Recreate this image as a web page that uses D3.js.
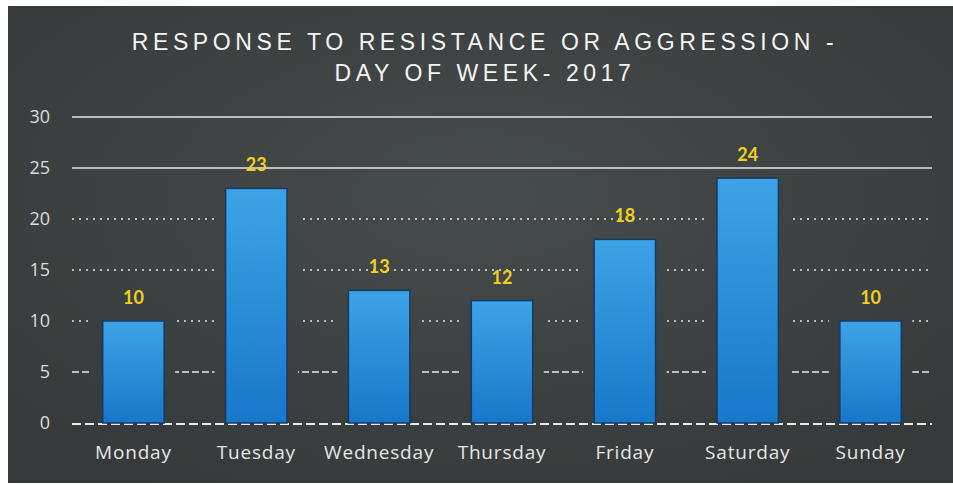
<!DOCTYPE html>
<html>
<head>
<meta charset="utf-8">
<script src="https://cdn.jsdelivr.net/npm/d3@7"></script>
<style>
  html, body { margin: 0; padding: 0; background: #fff; }
  svg { display: block; }
</style>
</head>
<body>
<div id="chart"></div>
<script>
// chart values
let days = ["Monday", "Tuesday", "Wednesday", "Thursday", "Friday", "Saturday", "Sunday"];
let counts = [10, 23, 13, 12, 18, 24, 10];
let yTicks = [0, 5, 10, 15, 20, 25, 30];
let titleLines = ["RESPONSE TO RESISTANCE OR AGGRESSION -", "DAY OF WEEK- 2017"];

const width = 953, height = 485;
const margin = {top: 117, right: 21, bottom: 62, left: 72};

const svg = d3.select("#chart").append("svg")
    .attr("width", width)
    .attr("height", height);

const defs = svg.append("defs");

// slate background, a bit lighter in the middle
const bg = defs.append("radialGradient")
    .attr("id", "bg")
    .attr("cx", "50%").attr("cy", "40%").attr("r", "70%");
bg.append("stop").attr("offset", "0%").attr("stop-color", "#464b4c");
bg.append("stop").attr("offset", "100%").attr("stop-color", "#35393a");

const barGrad = defs.append("linearGradient")
    .attr("id", "barGrad")
    .attr("x1", 0).attr("y1", 0).attr("x2", 0).attr("y2", 1);
barGrad.append("stop").attr("offset", "0%").attr("stop-color", "#3da3e6");
barGrad.append("stop").attr("offset", "100%").attr("stop-color", "#1877c9");

svg.append("rect")
    .attr("x", 8).attr("y", 6)
    .attr("width", width - 8).attr("height", height - 8)
    .attr("fill", "url(#bg)");

const x = d3.scaleBand()
    .domain(days)
    .range([margin.left, width - margin.right])
    .paddingInner(0.5)
    .paddingOuter(0.25);

const y = d3.scaleLinear()
    .domain([0, 30])
    .range([height - margin.bottom, margin.top]);

// mask so gridlines stop around each bar
const mask = defs.append("mask").attr("id", "gridMask");
mask.append("rect").attr("x", 0).attr("y", 0).attr("width", width).attr("height", height).attr("fill", "#fff");
mask.selectAll("rect.hole")
    .data(counts)
    .join("rect")
    .attr("class", "hole")
    .attr("x", (d, i) => x(days[i]) - 11)
    .attr("y", d => y(d) - 5)
    .attr("width", x.bandwidth() + 22)
    .attr("height", d => y(0) - y(d) + 3)
    .attr("fill", "#000");

const dashFor = t => t >= 25 ? null : (t >= 10 ? "2,5" : "7,3");

svg.append("g")
    .attr("mask", "url(#gridMask)")
    .selectAll("line")
    .data(yTicks.filter(t => t > 0))
    .join("line")
    .attr("x1", margin.left)
    .attr("x2", width - margin.right)
    .attr("y1", d => y(d))
    .attr("y2", d => y(d))
    .attr("stroke", "#e6e6e6")
    .attr("stroke-width", d => d >= 25 ? 1.5 : 1.6)
    .attr("stroke-dasharray", dashFor);

// baseline
svg.append("line")
    .attr("x1", margin.left).attr("x2", width - margin.right)
    .attr("y1", y(0) + 1).attr("y2", y(0) + 1)
    .attr("stroke", "#e8e8e8")
    .attr("stroke-width", 2)
    .attr("stroke-dasharray", "9,4");

// bars
svg.append("g")
    .selectAll("rect")
    .data(counts)
    .join("rect")
    .attr("x", (d, i) => x(days[i]))
    .attr("y", d => y(d))
    .attr("width", x.bandwidth())
    .attr("height", d => y(0) - y(d))
    .attr("fill", "url(#barGrad)")
    .attr("stroke", "#143a66")
    .attr("stroke-width", 1.5);

// value labels
svg.append("g")
    .selectAll("text")
    .data(counts)
    .join("text")
    .attr("x", (d, i) => x(days[i]) + x.bandwidth() / 2)
    .attr("y", d => y(d) - 17)
    .attr("text-anchor", "middle")
    .attr("font-family", "Lato, 'Open Sans', sans-serif")
    .attr("font-weight", "bold")
    .attr("font-size", 18)
    .attr("fill", "#f2cf1e")
    .text(d => d);

// y axis
const yAxis = svg.append("g")
    .attr("transform", `translate(${margin.left - 22},0)`)
    .call(d3.axisLeft(y).tickValues(yTicks).tickSize(0).tickPadding(0));
yAxis.select(".domain").remove();
yAxis.selectAll("text")
    .attr("font-family", "'Open Sans', sans-serif")
    .attr("font-size", 18)
    .attr("fill", "#dcdcdc");

// x axis
const xAxis = svg.append("g")
    .attr("transform", `translate(0,${y(0)})`)
    .call(d3.axisBottom(x).tickSize(0).tickPadding(23));
xAxis.select(".domain").remove();
xAxis.selectAll("text")
    .attr("font-family", "'Open Sans', sans-serif")
    .attr("font-size", 19)
    .attr("letter-spacing", 0.8)
    .attr("fill", "#e6e6e6");

// title
svg.append("text")
    .attr("x", 485)
    .attr("y", 50)
    .attr("text-anchor", "middle")
    .attr("font-family", "'Liberation Sans', Arial, sans-serif")
    .attr("font-size", 23)
    .attr("letter-spacing", 4.6)
    .attr("fill", "#f4f4f4")
    .selectAll("tspan")
    .data(titleLines)
    .join("tspan")
    .attr("x", 485)
    .attr("dy", (d, i) => i === 0 ? 0 : 31)
    .text(d => d);
</script>
</body>
</html>
